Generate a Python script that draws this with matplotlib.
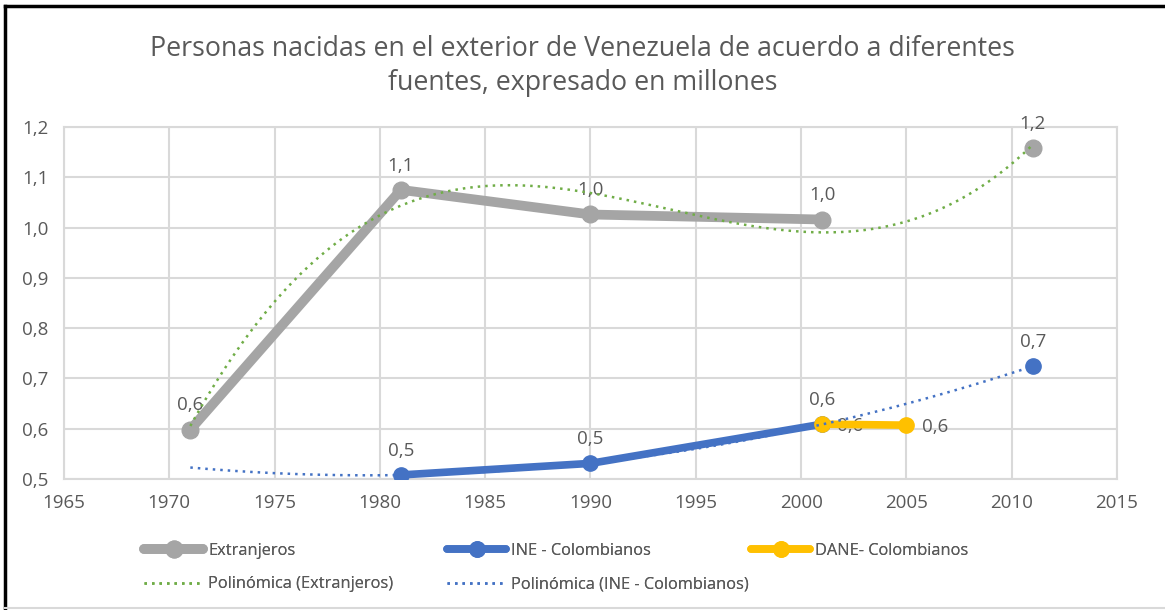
import matplotlib.pyplot as plt
from matplotlib.lines import Line2D
from matplotlib.ticker import FuncFormatter, MultipleLocator
import numpy as np

# Censos / fuentes, en millones de personas
years = [1971, 1981, 1990, 2001, 2005, 2011]
extranjeros = [0.598, 1.075, 1.026, 1.016, np.nan, 1.158]
ine_colombianos = [np.nan, 0.508, 0.531, 0.609, np.nan, 0.724]
dane_years = [2001, 2005]
dane_colombianos = [0.609, 0.607]

title = 'Personas nacidas en el exterior de Venezuela de acuerdo a diferentes\nfuentes, expresado en millones'

GRAY = '#A5A5A5'
BLUE = '#4472C4'
GOLD = '#FFC000'
GREEN = '#70AD47'
TEXT = '#595959'
GRID = '#D9D9D9'

plt.rcParams['font.family'] = ['Open Sans', 'DejaVu Sans']


def coma(v, pos=None):
    return f'{v:.1f}'.replace('.', ',')


def trend(x, y, deg, x0, x1):
    x = np.asarray(x, dtype=float)
    y = np.asarray(y, dtype=float)
    ok = ~np.isnan(y)
    c = np.polyfit(x[ok], y[ok], deg)
    xs = np.linspace(x0, x1, 200)
    return xs, np.polyval(c, xs)


fig = plt.figure(figsize=(11.65, 6.10), dpi=100)
ax = fig.add_axes([0.0549, 0.2148, 0.9039, 0.577])

# series principales
l_ext, = ax.plot(years, extranjeros, color=GRAY, lw=7, marker='o', ms=12,
                 solid_capstyle='round', zorder=3)
l_ine, = ax.plot(years, ine_colombianos, color=BLUE, lw=5.5, marker='o', ms=11,
                 solid_capstyle='round', zorder=3)
l_dane, = ax.plot(dane_years, dane_colombianos, color=GOLD, lw=5.5, marker='o', ms=11,
                  solid_capstyle='round', zorder=4)

# lineas de tendencia polinomicas
xs, ys = trend(years, extranjeros, 3, 1971, 2011)
t_ext, = ax.plot(xs, ys, color=GREEN, lw=1.8, ls=(0, (1, 2)), zorder=5)
xs, ys = trend(years, ine_colombianos, 2, 1971, 2011)
t_ine, = ax.plot(xs, ys, color=BLUE, lw=1.8, ls=(0, (1, 2)), zorder=5)

# etiquetas de datos
FS = 13.5
for x, y in zip(years, extranjeros):
    if not np.isnan(y):
        ax.annotate(coma(y), (x, y), xytext=(0, 11), textcoords='offset points',
                    ha='center', va='bottom', fontsize=FS, color=TEXT)
for x, y in zip(years, ine_colombianos):
    if not np.isnan(y):
        ax.annotate(coma(y), (x, y), xytext=(0, 11), textcoords='offset points',
                    ha='center', va='bottom', fontsize=FS, color=TEXT)
for x, y in zip(dane_years, dane_colombianos):
    ax.annotate(coma(y), (x, y), xytext=(11, -1), textcoords='offset points',
                ha='left', va='center', fontsize=FS, color=TEXT)

ax.set_xlim(1965, 2015)
ax.set_ylim(0.5, 1.2)
ax.xaxis.set_major_locator(MultipleLocator(5))
ax.yaxis.set_major_locator(MultipleLocator(0.1))
ax.yaxis.set_major_formatter(FuncFormatter(coma))
ax.tick_params(length=0, labelsize=FS, labelcolor=TEXT)
ax.tick_params(axis='x', pad=11)
ax.tick_params(axis='y', pad=11)
ax.grid(True, color=GRID, lw=1.5)
ax.set_axisbelow(True)
for s in ax.spines.values():
    s.set_color(GRID)
    s.set_linewidth(1.5)

fig.suptitle(title, y=0.892, va='center', fontsize=19.3, color=TEXT, linespacing=1.25)

# leyenda en tres columnas fijas
cols = [
    ([l_ext, t_ext], ['Extranjeros', 'Polinómica (Extranjeros)'], 0.117),
    ([l_ine, t_ine], ['INE - Colombianos', 'Polinómica (INE - Colombianos)'], 0.377),
    ([l_dane], ['DANE- Colombianos'], 0.638),
]
for handles, labels, x in cols:
    leg = fig.legend(handles, labels, loc='upper left', bbox_to_anchor=(x, 0.123),
                     frameon=False, fontsize=11.8, labelcolor=TEXT, handlelength=3.6,
                     handletextpad=0.3, labelspacing=1.05, borderpad=0)
    fig.add_artist(leg)

# marco
fig.add_artist(Line2D([0.004, 1.0], [0.99, 0.99], color='black', lw=2.5,
                      transform=fig.transFigure))
fig.add_artist(Line2D([0.004, 0.004], [0.004, 0.99], color='black', lw=2.5,
                      transform=fig.transFigure))
fig.add_artist(Line2D([0.004, 1.0], [0.004, 0.004], color=GRID, lw=1.5,
                      transform=fig.transFigure))

fig.savefig('out.png', dpi=100)
